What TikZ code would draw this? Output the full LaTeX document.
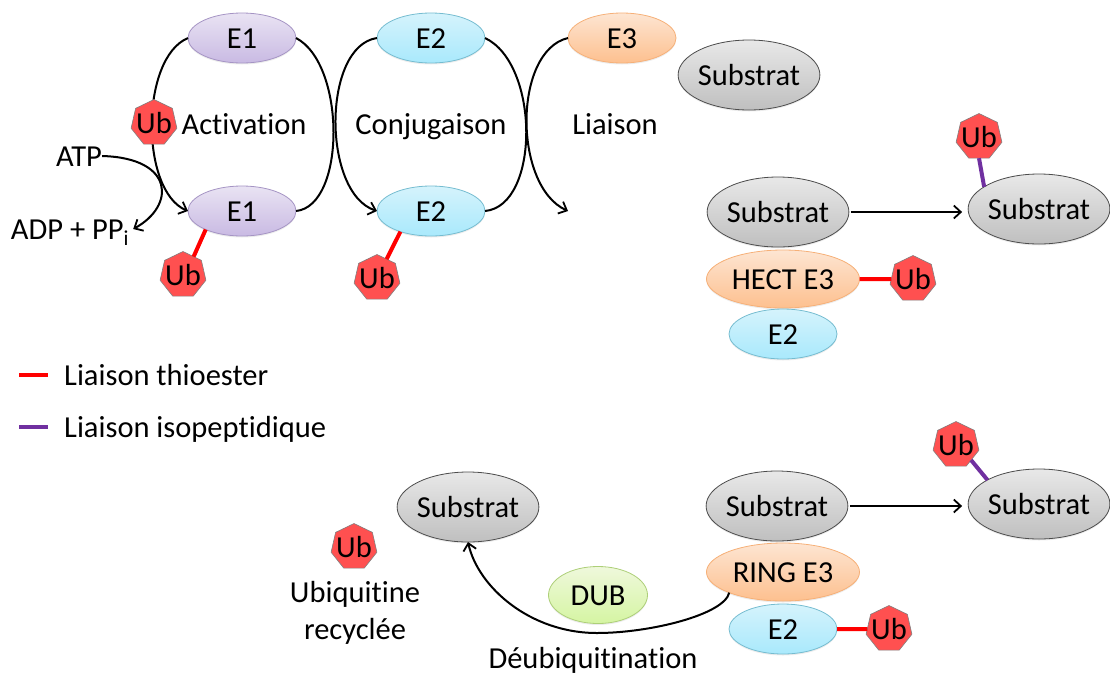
\documentclass[tikz,border=0pt]{standalone}
\usepackage{fontspec}
\setmainfont{Carlito}[Ligatures={NoCommon}]
\usetikzlibrary{shapes.geometric,shadows,arrows.meta}
\definecolor{ubred}{HTML}{FF5050}
\definecolor{thio}{HTML}{FF0000}
\definecolor{iso}{HTML}{7030A0}
\definecolor{violetb}{HTML}{A594C4}
\definecolor{violeth}{HTML}{E9E3F3}
\definecolor{violetl}{HTML}{C9BAE3}
\definecolor{bleub}{HTML}{75BCD0}
\definecolor{bleuh}{HTML}{D5F3FC}
\definecolor{bleul}{HTML}{A9E9FC}
\definecolor{orangeb}{HTML}{F6B078}
\definecolor{orangeh}{HTML}{FDE5D2}
\definecolor{orangel}{HTML}{FDC08F}
\definecolor{vertb}{HTML}{ADCF78}
\definecolor{verth}{HTML}{EFF8DC}
\definecolor{vertl}{HTML}{D5F5A2}
\newcommand{\ubq}{\makebox[0pt]{Ub}}
\begin{document}
\begin{tikzpicture}[x=1pt, y=-1pt, font=\fontsize{30.5}{36}\selectfont]
    % Define styles
    \tikzstyle{enzyme} = [ellipse, inner sep=0pt, outer sep=0pt, line width=0.8pt, minimum width=108pt, minimum height=50pt, text height=20pt, text depth=0pt, drop shadow={shadow xshift=0pt, shadow yshift=-1.5pt, opacity=0.15}]
    \tikzstyle{eun} = [enzyme, draw=violetb, top color=violeth, bottom color=violetl]
    \tikzstyle{edeux} = [enzyme, draw=bleub, top color=bleuh, bottom color=bleul]
    \tikzstyle{etrois} = [enzyme, draw=orangeb, top color=orangeh, bottom color=orangel]
    \tikzstyle{hect} = [etrois, minimum width=153pt, minimum height=58pt]
    \tikzstyle{dub} = [enzyme, draw=vertb, top color=verth, bottom color=vertl, minimum width=99pt, minimum height=57pt]
    \tikzstyle{substrat} = [enzyme, draw=black!70, top color=black!9, bottom color=black!25, inner xsep=-1pt, minimum width=141pt, minimum height=70pt]
    \tikzstyle{ub} = [regular polygon, regular polygon sides=7, inner sep=0pt, outer sep=0pt, minimum size=47pt, text height=20pt, text depth=0pt, draw=black!50, line width=0.6pt, fill=ubred]
    \tikzstyle{label} = [inner sep=0pt, text height=20pt, text depth=0pt]
    \tikzstyle{courbe} = [line width=2pt]
    \tikzstyle{arrow} = [courbe, ->, >={Straight Barb[length=7pt, width=13pt, line width=1.8pt]}]
    \tikzstyle{thioester} = [line width=4pt, draw=thio]
    \tikzstyle{isopeptide} = [line width=4pt, draw=iso]

    \useasboundingbox (0,0) rectangle (1110,675);

    % Upper cycle
    \node [eun] (e1haut) at (242,38) {E1};
    \node [eun, below of=e1haut, node distance=173pt] (e1bas) {E1};
    \node [edeux, right of=e1haut, node distance=189pt] (e2haut) {E2};
    \node [edeux, below of=e2haut, node distance=173pt] (e2bas) {E2};
    \node [etrois, right of=e2haut, node distance=191pt] (e3) {E3};
    \node [substrat] (sub1) at (749,75) {Substrat};
    \coordinate (fin) at (568,211);

    \node [label] (activation) at (244,124) {Activation};
    \node [label] (conjugaison) at (431,124) {Conjugaison};
    \node [label] (liaison) at (615,124) {Liaison};
    \node [label] (atp) at (79,156) {ATP};
    \node [label, inner xsep=4pt] (adp) at (70,229) {ADP + PP\textsubscript{i}};

    % Curves between enzymes
    \draw [arrow] (e1haut.west) .. controls +(-48,20) and +(-48,-20) .. (e1bas.west);
    \draw [courbe] (e1haut.east) .. controls +(50,26) and +(50,-5) .. (e1bas.east);
    \draw [arrow] (e2haut.west) .. controls +(-55,8) and +(-55,-18) .. (e2bas.west);
    \draw [courbe] (e2haut.east) .. controls +(55,26) and +(55,-5) .. (e2bas.east);
    \draw [arrow] (e3.west) .. controls +(-55,13) and +(-55,-25) .. (fin);
    \draw [arrow] (atp.east) .. controls +(73,2) and +(42,-23) .. (adp.east);

    % Ubiquitin on the enzymes
    \node [ub] (ub0) at (154,123) {\ubq};
    \node [ub] (ub1) at (183,275) {\ubq};
    \node [ub] (ub2) at (377,278) {\ubq};
    \draw [thioester] (e1bas.207) -- (ub1.60);
    \draw [thioester] (e2bas.214) -- (ub2.63);

    % HECT branch
    \node [substrat] (sub2) at (778,212) {Substrat};
    \node [hect] (hecte3) at (783,279) {HECT E3};
    \node [edeux, below of=hecte3, node distance=55pt] (e2hect) {E2};
    \node [ub] (ubhect) at (913,279) {\ubq};
    \node [substrat] (sub3) at (1039,209) {Substrat};
    \node [ub] (ub3) at (979,137) {\ubq};
    \draw [thioester] (hecte3.east) -- (ubhect.west);
    \draw [isopeptide] (ub3.south) -- (sub3.158);
    \draw [arrow, shorten <=2pt, shorten >=6pt] (sub2.east) -- (sub2.east -| sub3.west);

    % Legend
    \coordinate (thioa) at (19,375);
    \coordinate (thiob) at (48,375);
    \coordinate (isoa) at (19,427);
    \coordinate (isob) at (48,427);
    \draw [thioester] (thioa) -- (thiob);
    \draw [isopeptide] (isoa) -- (isob);
    \node [label, anchor=west] (legthio) at (64,375) {Liaison thioester};
    \node [label, anchor=west] (legiso) at (64,427) {Liaison isopeptidique};

    % RING branch
    \node [substrat] (sub4) at (777,506) {Substrat};
    \node [hect] (ringe3) at (783,572) {RING E3};
    \node [edeux, below of=ringe3, node distance=57pt] (e2ring) {E2};
    \node [ub] (ubring) at (889,629) {\ubq};
    \node [substrat] (sub5) at (1039,504) {Substrat};
    \node [ub] (ub5) at (956,445) {\ubq};
    \draw [thioester] (e2ring.east) -- (ubring.west);
    \draw [isopeptide] (ub5.-45) -- (sub5.155);
    \draw [arrow, shorten <=2pt, shorten >=6pt] (sub4.east) -- (sub4.east -| sub5.west);

    % Deubiquitination
    \node [substrat] (sub6) at (468,507) {Substrat};
    \node [ub] (ub6) at (354,547) {\ubq};
    \node [label] (recycl1) at (355,592) {Ubiquitine};
    \node [label] (recycl2) at (355,629) {recyclée};
    \node [dub] (dub1) at (598,595) {DUB};
    \node [label] (deub) at (593,658) {Déubiquitination};
    \coordinate (bas) at (597,633);
    \draw [arrow] (ringe3.201) .. controls +(-5,22) and +(53,0) .. (bas) .. controls +(-67,0) and +(10,45) .. (sub6.south);
\end{tikzpicture}
\end{document}
